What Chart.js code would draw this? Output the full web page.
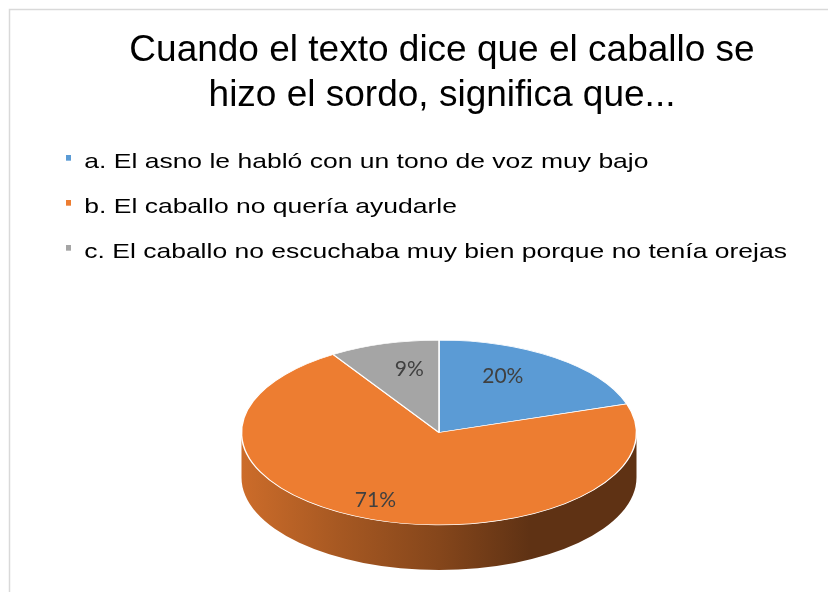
<!DOCTYPE html>
<html>
<head>
<meta charset="utf-8">
<script src="https://cdn.jsdelivr.net/npm/chart.js@4.4.1/dist/chart.umd.min.js"></script>
<style>
    html, body { margin: 0; padding: 0; background: #fff; }
    canvas { display: block; }
</style>
</head>
<body>
<canvas id="chart" width="828" height="592"></canvas>
<script>
const titleLines = ['Cuando el texto dice que el caballo se', 'hizo el sordo, significa que...'];
const categories = [
    'a. El asno le habló con un tono de voz muy bajo',
    'b. El caballo no quería ayudarle',
    'c. El caballo no escuchaba muy bien porque no tenía orejas'
];
const values = [20, 71, 9];
const sliceColors = ['#5B9BD5', '#ED7D31', '#A5A5A5'];

// look of the tilted pie
const pieCenter = { x: 439, y: 432.5 };
const pieRadius = 197.5;
const tilt = 0.468;
const sideDepth = 45;
const labelRadius = [0.55, 0.95, 0.54];
const labelLift = -15;
const legendSquash = 0.75;
const legendShiftX = -23.5;

function shade(hex, f) {
    const n = parseInt(hex.slice(1), 16);
    const r = Math.round(((n >> 16) & 255) * f);
    const g = Math.round(((n >> 8) & 255) * f);
    const b = Math.round((n & 255) * f);
    return `rgb(${r}, ${g}, ${b})`;
}

// small square marker sitting a bit above the text middle
function makeMarker(color) {
    const c = document.createElement('canvas');
    c.width = 5;
    c.height = 20;
    const g = c.getContext('2d');
    g.fillStyle = color;
    g.fillRect(0, 0, 5, 7);
    return c;
}

const pie3d = {
    id: 'pie3d',
    beforeDraw(chart) {
        const ctx = chart.ctx;
        ctx.save();
        ctx.fillStyle = '#fff';
        ctx.fillRect(0, 0, chart.width, chart.height);
        ctx.strokeStyle = '#d9d9d9';
        ctx.lineWidth = 1.5;
        ctx.strokeRect(9.5, 9.5, chart.width + 20, chart.height + 20);
        ctx.restore();

        // legend text in the picture is wider than it is tall
        const legend = chart.legend;
        if (legend && !legend._squashed) {
            const origDraw = legend.draw;
            legend.draw = function () {
                const c = this.ctx;
                c.save();
                c.translate(legendShiftX, this.top);
                c.scale(1, legendSquash);
                c.translate(0, -this.top);
                origDraw.apply(this, arguments);
                c.restore();
            };
            legend._squashed = true;
        }
    },
    beforeDatasetsDraw(chart) {
        const ctx = chart.ctx;
        const meta = chart.getDatasetMeta(0);
        const cx = pieCenter.x, cy = pieCenter.y;
        const ry = pieRadius * tilt;

        // side wall, front half only
        meta.data.forEach((arc, i) => {
            const { startAngle, endAngle } = arc.getProps(['startAngle', 'endAngle']);
            const color = sliceColors[i];
            for (const off of [-2 * Math.PI, 0, 2 * Math.PI]) {
                const a = Math.max(startAngle, off);
                const b = Math.min(endAngle, off + Math.PI);
                if (b <= a) continue;
                const g = ctx.createLinearGradient(cx - pieRadius, 0, cx + pieRadius, 0);
                g.addColorStop(0, shade(color, 0.86));
                g.addColorStop(0.25, shade(color, 0.7));
                g.addColorStop(0.5, shade(color, 0.56));
                g.addColorStop(0.73, shade(color, 0.4));
                g.addColorStop(1, shade(color, 0.4));
                ctx.save();
                ctx.fillStyle = g;
                ctx.beginPath();
                ctx.ellipse(cx, cy, pieRadius, ry, 0, a, b);
                ctx.ellipse(cx, cy + sideDepth, pieRadius, ry, 0, b, a, true);
                ctx.closePath();
                ctx.fill();
                ctx.restore();
            }
        });

        // squash the round pie into the top face
        const arc0 = meta.data[0];
        ctx.save();
        ctx.translate(cx, cy);
        ctx.scale(1, tilt);
        ctx.translate(-arc0.x, -arc0.y);
    },
    afterDatasetsDraw(chart) {
        const ctx = chart.ctx;
        ctx.restore();

        const meta = chart.getDatasetMeta(0);
        const total = values.reduce((s, v) => s + v, 0);
        ctx.save();
        ctx.font = '21px Lato, "Open Sans", sans-serif';
        ctx.fillStyle = '#404040';
        ctx.textAlign = 'center';
        ctx.textBaseline = 'middle';
        meta.data.forEach((arc, i) => {
            const { startAngle, endAngle, outerRadius } = arc.getProps(['startAngle', 'endAngle', 'outerRadius']);
            const mid = (startAngle + endAngle) / 2;
            const r = outerRadius * labelRadius[i];
            const x = pieCenter.x + r * Math.cos(mid);
            const y = pieCenter.y + labelLift + r * tilt * Math.sin(mid);
            ctx.fillText(Math.round(values[i] / total * 100) + '%', x, y);
        });
        ctx.restore();
    }
};

const ctx = document.getElementById('chart').getContext('2d');
const chart = new Chart(ctx, {
    type: 'pie',
    data: {
        labels: categories,
        datasets: [{
            data: values,
            backgroundColor: sliceColors,
            borderColor: '#ffffff',
            borderWidth: 1.5,
            clip: false
        }]
    },
    options: {
        responsive: false,
        animation: false,
        events: [],
        radius: pieRadius,
        layout: {
            padding: { top: 10, left: 56, right: 0, bottom: 0 }
        },
        plugins: {
            title: {
                display: true,
                text: titleLines,
                color: '#000',
                font: { family: '"Liberation Sans", Arial, sans-serif', size: 37, weight: 'normal', lineHeight: 1.2 },
                padding: { top: 19, bottom: 10 }
            },
            legend: {
                display: true,
                position: 'top',
                align: 'start',
                labels: {
                    color: '#000',
                    font: { family: '"Liberation Sans", Arial, sans-serif', size: 26.5, lineHeight: 1.2 },
                    usePointStyle: true,
                    boxWidth: 5,
                    boxHeight: 6.5,
                    padding: 33.5,
                    generateLabels(chart) {
                        const items = Chart.overrides.pie.plugins.legend.labels.generateLabels(chart);
                        items.forEach((item, i) => {
                            item.lineWidth = 0;
                            item.pointStyle = makeMarker(sliceColors[i]);
                        });
                        return items;
                    }
                }
            },
            tooltip: { enabled: false }
        }
    },
    plugins: [pie3d]
});
</script>
</body>
</html>
